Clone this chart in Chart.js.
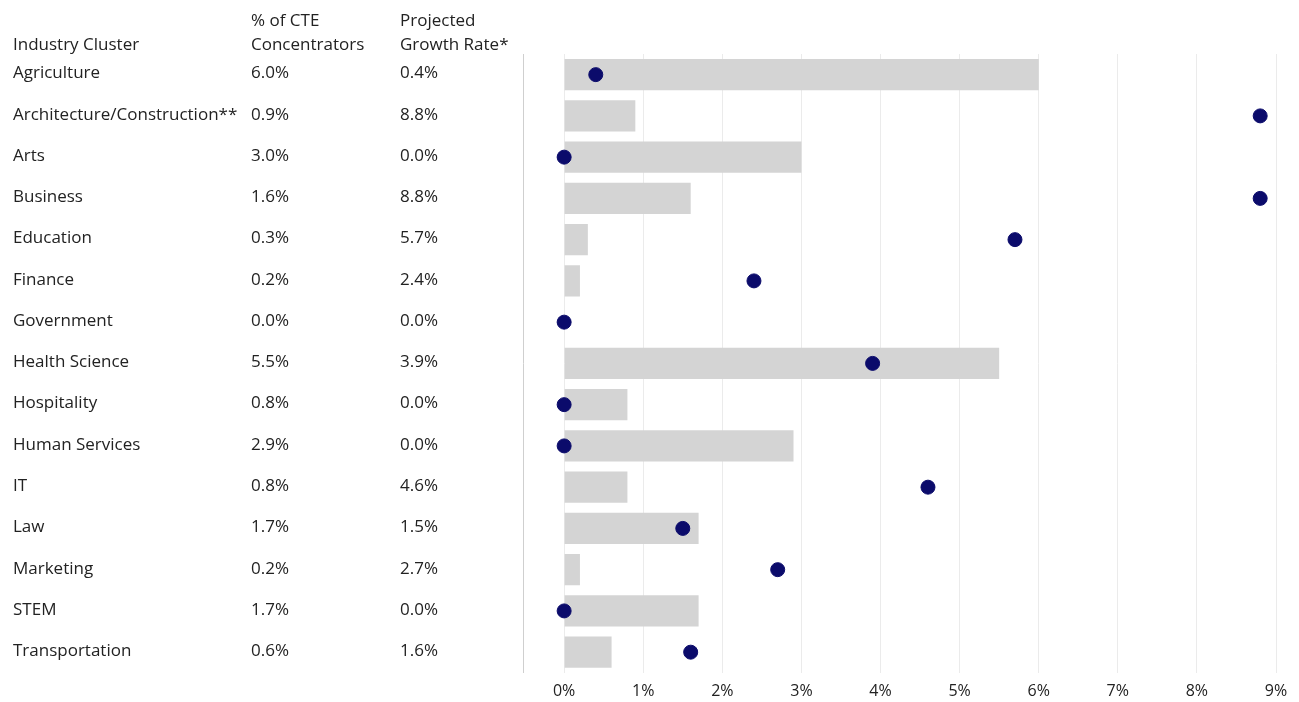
<!DOCTYPE html>
<html>
<head>
<meta charset="utf-8">
<script src="https://cdn.jsdelivr.net/npm/chart.js@4.4.0/dist/chart.umd.min.js"></script>
<style>
  html, body { margin: 0; padding: 0; background: #fff; }
  #wrap { width: 1299px; height: 702px; position: relative; }
</style>
</head>
<body>
<div id="wrap"><canvas id="cteChart"></canvas></div>
<script>
const clusters = ['Agriculture', 'Architecture/Construction**', 'Arts', 'Business', 'Education',
  'Finance', 'Government', 'Health Science', 'Hospitality', 'Human Services', 'IT', 'Law',
  'Marketing', 'STEM', 'Transportation'];
const concentrators = [6.0, 0.9, 3.0, 1.6, 0.3, 0.2, 0.0, 5.5, 0.8, 2.9, 0.8, 1.7, 0.2, 1.7, 0.6];
const growthRate = [0.4, 8.8, 0.0, 8.8, 5.7, 2.4, 0.0, 3.9, 0.0, 0.0, 4.6, 1.5, 2.7, 0.0, 1.6];
const xTicks = [0, 1, 2, 3, 4, 5, 6, 7, 8, 9];

const textFont = '17px "Open Sans"';
const textColor = '#222';

// draws the table columns on the left, lined up with the category scale
const tablePlugin = {
  id: 'table',
  afterDraw(chart) {
    const c = chart.ctx;
    const y = chart.scales.y;
    c.save();
    c.font = textFont;
    c.fillStyle = textColor;
    c.textAlign = 'left';
    c.textBaseline = 'middle';
    c.fillText('Industry Cluster', 13, 45);
    c.fillText('% of CTE', 251, 21);
    c.fillText('Concentrators', 251, 45);
    c.fillText('Projected', 400, 21);
    c.fillText('Growth Rate*', 400, 45);
    clusters.forEach((name, i) => {
      const py = y.getPixelForValue(i) - 1;
      c.fillText(name, 13, py);
      c.fillText(concentrators[i].toFixed(1) + '%', 251, py);
      c.fillText(growthRate[i].toFixed(1) + '%', 400, py);
    });
    c.restore();
  }
};

const ctx = document.getElementById('cteChart').getContext('2d');

const cteChart = new Chart(ctx, {
  type: 'bar',
  data: {
    labels: clusters,
    datasets: [
      {
        type: 'line',
        label: 'Projected Growth Rate',
        data: growthRate,
        indexAxis: 'y',
        showLine: false,
        pointRadius: 7,
        pointHoverRadius: 7,
        pointBackgroundColor: '#0b0b6b',
        pointBorderColor: '#0b0b6b',
        order: 1
      },
      {
        label: '% of CTE Concentrators',
        data: concentrators,
        backgroundColor: '#d4d4d4',
        categoryPercentage: 0.76,
        barPercentage: 1.0,
        order: 2
      }
    ]
  },
  options: {
    indexAxis: 'y',
    responsive: true,
    maintainAspectRatio: false,
    animation: false,
    layout: { padding: { left: 515, top: 54, right: 23, bottom: -8 } },
    plugins: {
      legend: { display: false },
      tooltip: { enabled: false }
    },
    scales: {
      x: {
        min: -0.52,
        max: 9,
        afterBuildTicks(scale) {
          scale.ticks = xTicks.map(v => ({ value: v }));
        },
        grid: { color: '#ebebeb', drawTicks: false },
        border: { display: false },
        ticks: {
          padding: 9,
          color: '#222',
          font: { family: 'Open Sans', size: 16 },
          callback: v => v + '%'
        }
      },
      y: {
        ticks: { display: false },
        grid: { display: false },
        border: { display: true, color: '#cfcfcf' }
      }
    }
  },
  plugins: [tablePlugin]
});
</script>
</body>
</html>
